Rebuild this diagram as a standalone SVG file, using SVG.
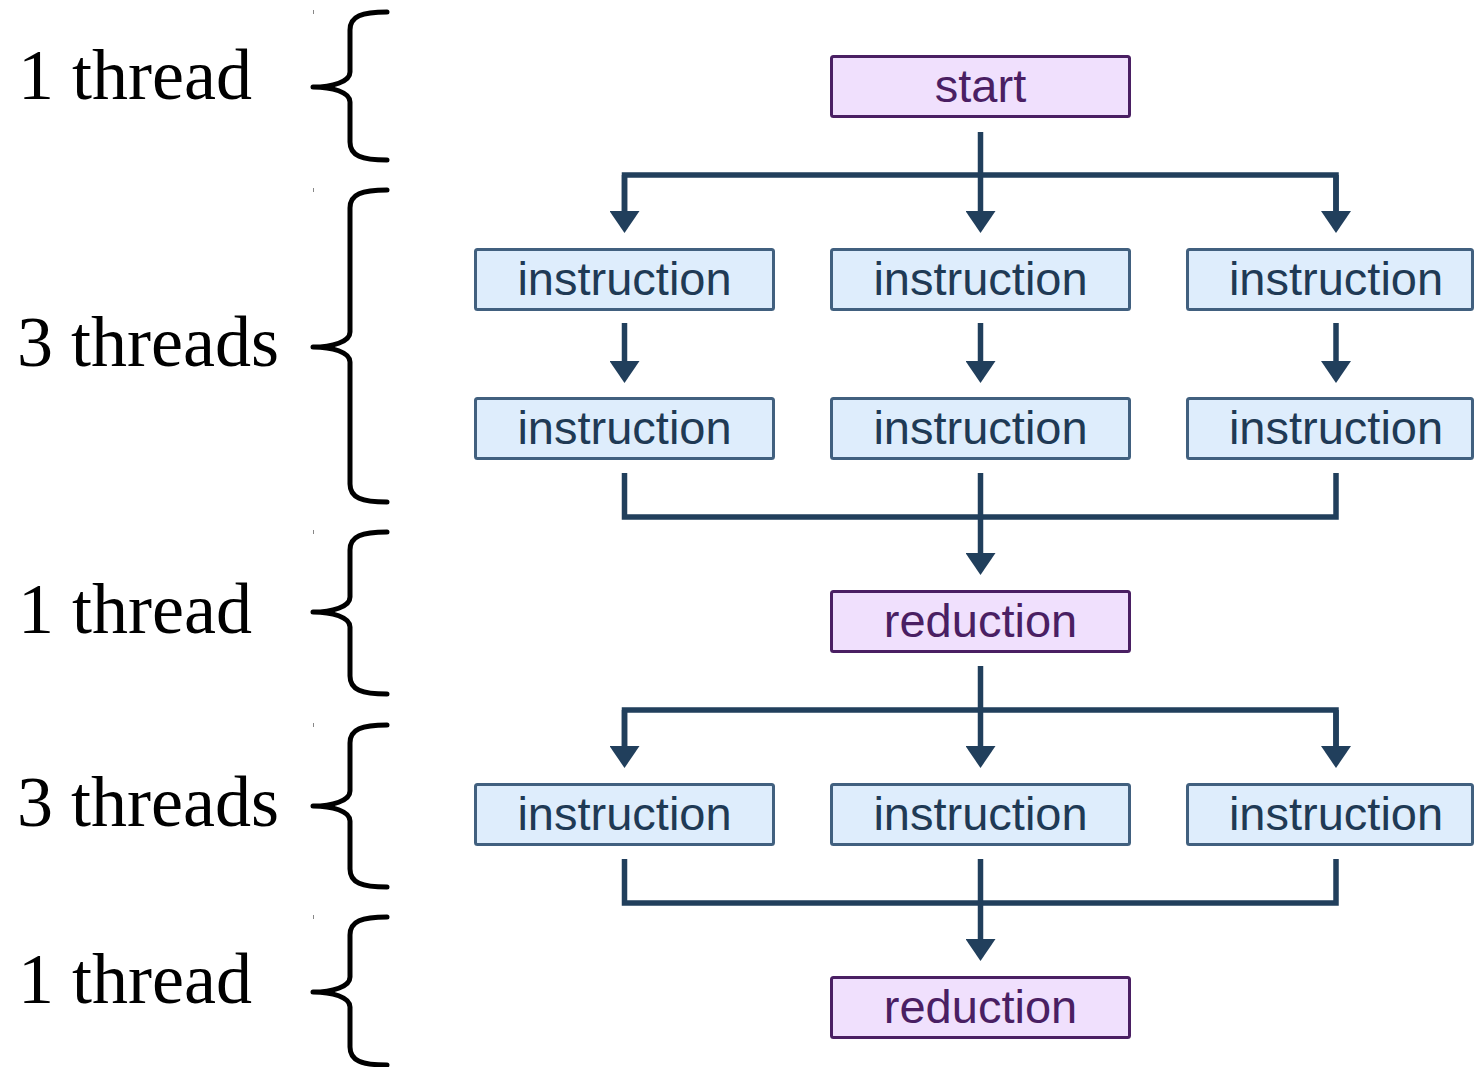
<svg xmlns="http://www.w3.org/2000/svg" width="1474" height="1067" viewBox="0 0 1474 1067">
<style>
.lbl{font-family:"Liberation Serif","Times New Roman",serif;font-size:72px;fill:#000}
.brace{fill:none;stroke:#000;stroke-width:5;stroke-linecap:round;stroke-linejoin:round}
.tick{stroke:#888;stroke-width:1}
.ins rect{fill:#deedfc;stroke:#41607f;stroke-width:3}
.ins text{font-family:"Liberation Sans",Arial,sans-serif;font-size:47px;fill:#1f3a55;text-anchor:middle}
.red rect{fill:#f0e0fd;stroke:#4a1f63;stroke-width:3}
.red text{font-family:"Liberation Sans",Arial,sans-serif;font-size:47px;fill:#4a1f63;text-anchor:middle}
.con{fill:none;stroke:#213f5c;stroke-width:5.5;stroke-linejoin:miter}
.arr{marker-end:url(#ah)}
</style>
<defs>
<marker id="ah" viewBox="0 0 22 30" refX="1" refY="15" markerWidth="22" markerHeight="30" markerUnits="userSpaceOnUse" orient="auto">
<path d="M0,0 L22,15 L0,30 z" fill="#213f5c"/>
</marker>
</defs>

<g id="labels">
<text class="lbl" x="18" y="99">1 thread</text>
<text class="lbl" x="17" y="366" textLength="262">3 threads</text>
<text class="lbl" x="18" y="633">1 thread</text>
<text class="lbl" x="17" y="826" textLength="262">3 threads</text>
<text class="lbl" x="18" y="1003">1 thread</text>
</g>

<g id="braces">
<path class="brace" d="M387,12 C362,12 350,16 350,30 L350,72 C350,82 332,87 313,87 C332,87 350,92 350,102 L350,142 C350,156 362,160 387,160"/>
<path class="brace" d="M387,190 C362,190 350,194 350,208 L350,332 C350,342 332,347 313,347 C332,347 350,352 350,362 L350,484 C350,498 362,502 387,502"/>
<path class="brace" d="M387,532 C362,532 350,536 350,550 L350,597 C350,607 332,612 313,612 C332,612 350,617 350,627 L350,676 C350,690 362,694 387,694"/>
<path class="brace" d="M387,725 C362,725 350,729 350,743 L350,791 C350,801 332,806 313,806 C332,806 350,811 350,821 L350,869 C350,883 362,887 387,887"/>
<path class="brace" d="M387,917 C362,917 350,921 350,935 L350,977 C350,987 332,992 313,992 C332,992 350,997 350,1007 L350,1047 C350,1061 362,1065 387,1065"/>
<line class="tick" x1="313.5" y1="10" x2="313.5" y2="14"/>
<line class="tick" x1="313.5" y1="188" x2="313.5" y2="192"/>
<line class="tick" x1="313.5" y1="530" x2="313.5" y2="534"/>
<line class="tick" x1="313.5" y1="723" x2="313.5" y2="727"/>
<line class="tick" x1="313.5" y1="915" x2="313.5" y2="919"/>
</g>

<g id="start" class="red"><rect x="831.5" y="56.5" width="298" height="60" rx="2"/><text x="980.5" y="102">start</text></g>

<g id="ins-1-1" class="ins"><rect x="475.5" y="249.5" width="298" height="60" rx="2"/><text x="624.5" y="295">instruction</text></g>
<g id="ins-1-2" class="ins"><rect x="831.5" y="249.5" width="298" height="60" rx="2"/><text x="980.5" y="295">instruction</text></g>
<g id="ins-1-3" class="ins"><rect x="1187.5" y="249.5" width="285" height="60" rx="2"/><text x="1336" y="295">instruction</text></g>

<g id="ins-2-1" class="ins"><rect x="475.5" y="398.5" width="298" height="60" rx="2"/><text x="624.5" y="444">instruction</text></g>
<g id="ins-2-2" class="ins"><rect x="831.5" y="398.5" width="298" height="60" rx="2"/><text x="980.5" y="444">instruction</text></g>
<g id="ins-2-3" class="ins"><rect x="1187.5" y="398.5" width="285" height="60" rx="2"/><text x="1336" y="444">instruction</text></g>

<g id="reduction-1" class="red"><rect x="831.5" y="591.5" width="298" height="60" rx="2"/><text x="980.5" y="637">reduction</text></g>

<g id="ins-3-1" class="ins"><rect x="475.5" y="784.5" width="298" height="60" rx="2"/><text x="624.5" y="830">instruction</text></g>
<g id="ins-3-2" class="ins"><rect x="831.5" y="784.5" width="298" height="60" rx="2"/><text x="980.5" y="830">instruction</text></g>
<g id="ins-3-3" class="ins"><rect x="1187.5" y="784.5" width="285" height="60" rx="2"/><text x="1336" y="830">instruction</text></g>

<g id="reduction-2" class="red"><rect x="831.5" y="977.5" width="298" height="60" rx="2"/><text x="980.5" y="1023">reduction</text></g>

<g id="connectors">
<path class="con" d="M624.5,212 L624.5,175 L1336,175 L1336,212"/>
<path class="con arr" d="M624.5,175 L624.5,212"/>
<path class="con arr" d="M1336,175 L1336,212"/>
<path class="con arr" d="M980.5,132 L980.5,212"/>

<path class="con arr" d="M624.5,323 L624.5,362"/>
<path class="con arr" d="M980.5,323 L980.5,362"/>
<path class="con arr" d="M1336,323 L1336,362"/>

<path class="con" d="M624.5,473 L624.5,517 L1336,517 L1336,473"/>
<path class="con arr" d="M980.5,473 L980.5,554"/>

<path class="con" d="M624.5,747 L624.5,710 L1336,710 L1336,747"/>
<path class="con arr" d="M624.5,710 L624.5,747"/>
<path class="con arr" d="M1336,710 L1336,747"/>
<path class="con arr" d="M980.5,666 L980.5,747"/>

<path class="con" d="M624.5,859 L624.5,903 L1336,903 L1336,859"/>
<path class="con arr" d="M980.5,859 L980.5,940"/>
</g>
</svg>
